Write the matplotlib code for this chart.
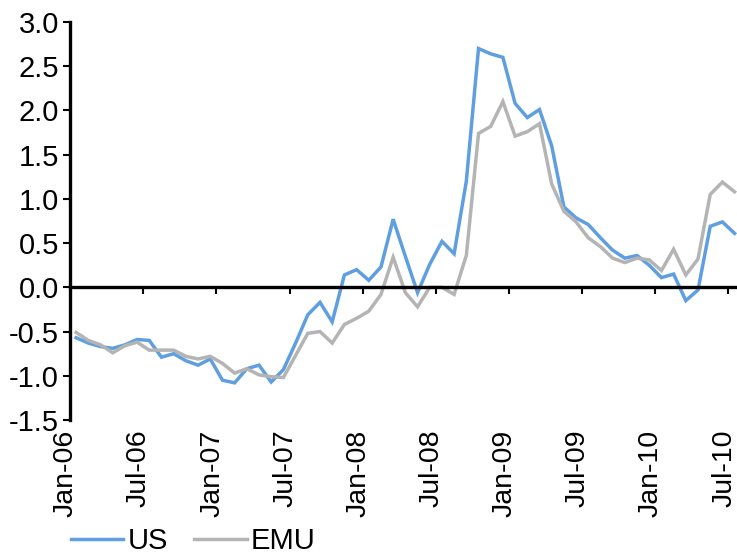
import matplotlib
matplotlib.use('Agg')
import matplotlib.pyplot as plt
import matplotlib.transforms as mtransforms
import pandas as pd

plt.rcParams['font.family'] = ['Liberation Sans', 'DejaVu Sans']

# monthly categories Jan-06 .. Jul-10
months = pd.date_range('2006-01-01', periods=55, freq='MS').strftime('%b-%y').tolist()

us = [-0.57, -0.63, -0.67, -0.69, -0.65, -0.59, -0.60, -0.79, -0.75, -0.83,
      -0.88, -0.81, -1.05, -1.08, -0.92, -0.88, -1.07, -0.93, -0.63, -0.31,
      -0.17, -0.39, 0.14, 0.20, 0.08, 0.23, 0.77, 0.35, -0.06, 0.26,
      0.52, 0.38, 1.20, 2.70, 2.64, 2.60, 2.08, 1.92, 2.01, 1.60,
      0.91, 0.785, 0.71, 0.56, 0.42, 0.33, 0.36, 0.25, 0.11, 0.15,
      -0.15, -0.03, 0.69, 0.74, 0.61]

emu = [-0.51, -0.60, -0.65, -0.74, -0.66, -0.62, -0.71, -0.71, -0.71, -0.78,
       -0.81, -0.78, -0.86, -0.97, -0.92, -0.99, -1.01, -1.02, -0.77, -0.52,
       -0.50, -0.63, -0.42, -0.35, -0.27, -0.08, 0.34, -0.06, -0.22, 0.00,
       0.00, -0.08, 0.36, 1.74, 1.82, 2.10, 1.71, 1.76, 1.85, 1.17,
       0.86, 0.74, 0.56, 0.46, 0.33, 0.28, 0.33, 0.31, 0.19, 0.43,
       0.14, 0.32, 1.05, 1.19, 1.08]

label_every = 6
yticks = [-1.5, -1.0, -0.5, 0.0, 0.5, 1.0, 1.5, 2.0, 2.5, 3.0]

fig = plt.figure(figsize=(7.37, 5.6), dpi=100)
ax = fig.add_axes([0.095, 0.25, 0.91, 0.7107])

x = list(range(len(months)))
ax.plot(x, us, color='#5F9FE0', lw=2.5, label='US', solid_joinstyle='miter')
ax.plot(x, emu, color='#B4B4B4', lw=2.5, label='EMU', solid_joinstyle='miter')

ax.set_xlim(-0.5, len(months) - 0.5)
ax.set_ylim(-1.5, 3.0)

# y axis
ax.set_yticks(yticks)
ax.set_yticklabels(['%.1f' % v for v in yticks])
ax.tick_params(axis='y', direction='out', length=5, width=1.5, labelsize=21, pad=3)
ax.spines['left'].set_linewidth(2.4)
ax.spines['left'].set_bounds(-1.5, 3.0)
ax.spines['top'].set_visible(False)
ax.spines['right'].set_visible(False)

# x axis crossing at zero, ticks between categories
ax.spines['bottom'].set_position(('data', 0))
ax.spines['bottom'].set_linewidth(2.4)
ax.set_xticks([i - 0.5 for i in range(label_every, len(months) + 1, label_every)])
ax.set_xticklabels([])
ax.tick_params(axis='x', direction='out', length=5, width=1.5)

# category labels along the bottom of the plot
trans = mtransforms.offset_copy(ax.get_xaxis_transform(), fig=fig, x=-7.5, y=-7, units='points')
for i in range(0, len(months), label_every):
    ax.text(i, 0, months[i], transform=trans, rotation=90, ha='center', va='top',
            fontsize=20.5)

fig.legend(loc='lower left', bbox_to_anchor=(0.08, -0.012), ncol=2, frameon=False,
           fontsize=21, handlelength=1.8, handletextpad=0.15, columnspacing=0.9,
           borderaxespad=0)

fig.savefig('out.png', dpi=100)
